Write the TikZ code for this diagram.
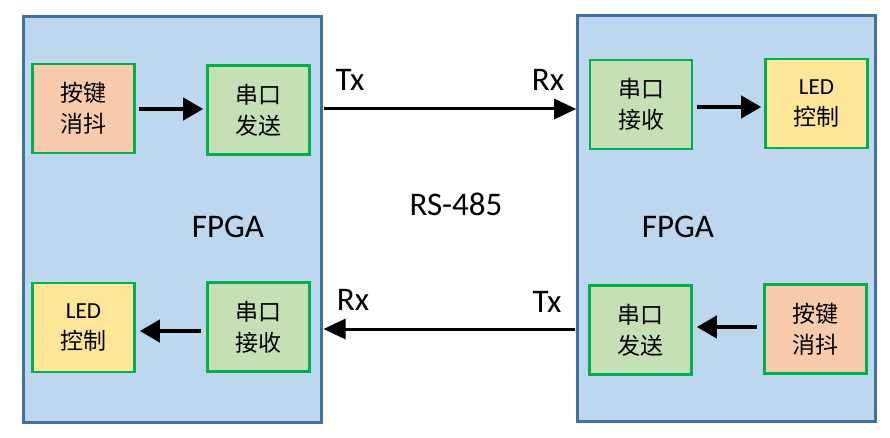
\documentclass[tikz,border=0pt]{standalone}
\usepackage{fontspec}
\setmainfont{Carlito}
\newfontfamily\cjk{Noto Sans CJK SC}
\usetikzlibrary{arrows.meta}
\definecolor{fpgafill}{HTML}{BDD7EE}
\definecolor{fpgaline}{HTML}{41719C}
\definecolor{boxline}{HTML}{00B050}
\definecolor{keyfill}{HTML}{F8CBAD}
\definecolor{uartfill}{HTML}{C5E0B4}
\definecolor{ledfill}{HTML}{FFE699}
\tikzset{
  fpga/.style={draw=fpgaline, fill=fpgafill, line width=3pt, minimum width=298pt, minimum height=406pt, inner sep=0pt},
  blk/.style={draw=boxline, line width=2.6pt, minimum width=102pt, minimum height=89pt, inner sep=0pt, align=center, font=\fontsize{23}{31}\selectfont},
  keyblk/.style={blk, fill=keyfill},
  uartblk/.style={blk, fill=uartfill},
  ledblk/.style={blk, fill=ledfill},
  inarrow/.style={line width=4pt, -{Triangle[length=20pt,width=22pt]}},
  linkarrow/.style={line width=3pt, -{Triangle[length=22pt,width=20pt]}},
  lbl/.style={font=\fontsize{33}{36}\selectfont, inner sep=0pt},
}
\begin{document}
\begin{tikzpicture}[x=1pt,y=-1pt]
\useasboundingbox (0,0) rectangle (890,438);
% FPGA boxes
\node[fpga] (L) at (172,219.5) {};
\node[fpga] (R) at (726.7,218.8) {};
% left blocks
\node[keyblk]  (A1) at (83.5,108.5) {\cjk 按键\\\cjk 消抖};
\node[uartblk] (A2) at (258.5,110) {\cjk 串口\\\cjk 发送};
\node[ledblk]  (A3) at (83.5,327.5) {LED\\\cjk 控制};
\node[uartblk] (A4) at (258.5,327) {\cjk 串口\\\cjk 接收};
% right blocks
\node[uartblk] (B1) at (641,104.5) {\cjk 串口\\\cjk 接收};
\node[ledblk]  (B2) at (816.5,103.5) {LED\\\cjk 控制};
\node[uartblk] (B3) at (640.5,330) {\cjk 串口\\\cjk 发送};
\node[keyblk]  (B4) at (815.5,329) {\cjk 按键\\\cjk 消抖};
% labels
\node[lbl] (fl) at (228,227) {FPGA};
\node[lbl] (fr) at (678,227) {FPGA};
\node[lbl] (rs) at (456,204) {RS-485};
\node[lbl] (t1) at (350,80) {Tx};
\node[lbl] (r1) at (548,80) {Rx};
\node[lbl] (r2) at (353,300) {Rx};
\node[lbl] (t2) at (547,302) {Tx};
% inner arrows
\draw[inarrow, shorten <=3pt, shorten >=3pt] (A1.east |- 0,109) -- (A2.west |- 0,109);
\draw[inarrow, shorten <=4pt, shorten >=3pt] (B1.east |- 0,107) -- (B2.west |- 0,107);
\draw[inarrow, shorten <=5pt, shorten >=4pt] (A4.west |- 0,331) -- (A3.east |- 0,331);
\draw[inarrow, shorten <=6pt, shorten >=4pt] (B4.west |- 0,327) -- (B3.east |- 0,327);
% link arrows
\coordinate (lt) at (L.east |- 0,109);
\coordinate (rt) at (R.west |- 0,109);
\coordinate (lb) at (L.east |- 0,329);
\coordinate (rb) at (R.west |- 0,329);
\draw[linkarrow, shorten <=1.5pt, shorten >=0pt] (lt) -- (rt);
\draw[linkarrow, shorten <=1.5pt, shorten >=1pt] (rb) -- (lb);
\end{tikzpicture}
\end{document}
